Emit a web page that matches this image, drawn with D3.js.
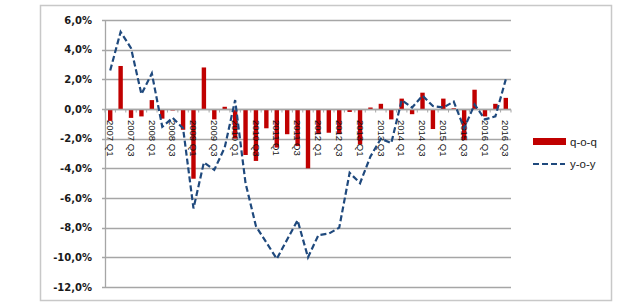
<!DOCTYPE html>
<html><head><meta charset="utf-8">
<script src="https://cdn.jsdelivr.net/npm/d3@7"></script>
<style>html,body{margin:0;padding:0;background:#fff;}</style>
</head><body>
<svg id="c" width="640" height="305"></svg>
<script>
const years = [2007,2008,2009,2010,2011,2012,2013,2014,2015,2016];
const quarters = [];
years.forEach(yr => [1,2,3,4].forEach(q => { if (!(yr === 2016 && q === 4)) quarters.push(yr + " Q" + q); }));
const tickLabels = quarters.filter((d, i) => i % 2 === 0);
const yTicks = [6,4,2,0,-2,-4,-6,-8,-10,-12];
const qoq = [-0.8, 2.9, -0.6, -0.5, 0.6, -0.65, -0.1, -1.4, -4.7, 2.8, -0.7, 0.15, -2.0, -3.1, -3.5, -1.3, -2.6, -1.7, -2.5, -4.0, -1.7, -1.6, -1.7, -0.2, -2.4, 0.1, 0.35, -0.7, 0.7, -0.35, 1.1, -1.35, 0.7, 0.05, -2.1, 1.3, -0.5, 0.35, 0.75];
const yoy = [2.6, 5.2, 4.1, 1.0, 2.4, -1.2, -0.6, -1.3, -6.7, -3.6, -4.1, -2.6, 0.6, -5.0, -7.9, -9.0, -10.1, -8.8, -7.5, -10.0, -8.5, -8.4, -8.0, -4.3, -5.0, -3.2, -2.0, -2.3, 0.6, 0.1, 0.9, 0.2, 0.1, 0.5, -1.3, 0.3, -0.7, -0.5, 2.0];
const seriesNames = ["q-o-q", "y-o-y"];

(function () {
const svg = d3.select("#c");
const pL = 105, pR = 511, pT = 20, pB = 287;
const x = d3.scaleBand().domain(quarters).range([pL, pR]).padding(0);
const y = d3.scaleLinear().domain([-12, 6]).range([pB, pT]);
const fmt = v => d3.format(".1f")(v).replace(".", ",").replace("\u2212", "-") + "%";

// outer frame
svg.append("rect").attr("x", 40.5).attr("y", 5.5).attr("width", 571).attr("height", 295)
  .attr("fill", "#fff").attr("stroke", "#c8c8c8").attr("stroke-width", 1.5);

// gridlines
svg.append("g").selectAll("line").data(yTicks).join("line")
  .attr("x1", pL - 3).attr("x2", pR)
  .attr("y1", d => Math.round(y(d)) + 0.5).attr("y2", d => Math.round(y(d)) + 0.5)
  .attr("stroke", "#a6a6a6").attr("stroke-width", 1.3);

// y axis line
svg.append("line").attr("x1", pL + 0.5).attr("x2", pL + 0.5).attr("y1", y(6)).attr("y2", y(-12))
  .attr("stroke", "#a6a6a6").attr("stroke-width", 1.3);

// y labels
svg.append("g").selectAll("text").data(yTicks).join("text")
  .attr("x", 92).attr("y", d => y(d)).attr("dy", "0.35em")
  .attr("text-anchor", "end")
  .attr("font-family", "DejaVu Sans, sans-serif").attr("font-weight", "bold").attr("font-size", 10)
  .attr("fill", "#1a1a1a").text(fmt);

// bars
const bw = 4.4;
svg.append("g").selectAll("rect").data(qoq).join("rect")
  .attr("x", (d, i) => x(quarters[i]) + x.bandwidth() / 2 - bw / 2)
  .attr("width", bw)
  .attr("y", d => Math.min(y(d), y(0)))
  .attr("height", d => Math.abs(y(d) - y(0)))
  .attr("fill", "#c00000");

// x axis at zero with ticks
const zeroY = Math.round(y(0)) + 0.5;
svg.append("line").attr("x1", pL).attr("x2", pR).attr("y1", zeroY).attr("y2", zeroY)
  .attr("stroke", "#a6a6a6").attr("stroke-width", 1.3);
svg.append("g").selectAll("line").data(d3.range(quarters.length + 1)).join("line")
  .attr("x1", i => pL + i * x.bandwidth()).attr("x2", i => pL + i * x.bandwidth())
  .attr("y1", zeroY).attr("y2", zeroY + 3)
  .attr("stroke", "#a6a6a6").attr("stroke-width", 1);

// x labels
svg.append("g").selectAll("text").data(tickLabels).join("text")
  .attr("transform", d => `translate(${x(d) + x.bandwidth() / 2},${y(0) + 11}) rotate(90)`)
  .attr("dy", "0.35em")
  .attr("font-family", "Liberation Sans, Arial, sans-serif").attr("font-size", 9.5)
  .attr("fill", "#111").text(d => d);

// line
const line = d3.line().x((d, i) => x(quarters[i]) + x.bandwidth() / 2).y(d => y(d));
svg.append("path").datum(yoy).attr("d", line)
  .attr("fill", "none").attr("stroke", "#1f497d").attr("stroke-width", 2.2)
  .attr("stroke-dasharray", "6,3");

// legend
const lg = svg.append("g");
lg.append("rect").attr("x", 533).attr("y", 138).attr("width", 33).attr("height", 7).attr("fill", "#c00000");
lg.append("line").attr("x1", 533).attr("x2", 565).attr("y1", 164).attr("y2", 164)
  .attr("stroke", "#1f497d").attr("stroke-width", 2.2).attr("stroke-dasharray", "6,3");
lg.selectAll("text").data(seriesNames).join("text")
  .attr("x", 570).attr("y", (d, i) => i === 0 ? 141.5 : 164).attr("dy", "0.35em")
  .attr("font-family", "Liberation Sans, Arial, sans-serif").attr("font-size", 11.5)
  .attr("fill", "#222").text(d => d);
})();
</script>
</body></html>
